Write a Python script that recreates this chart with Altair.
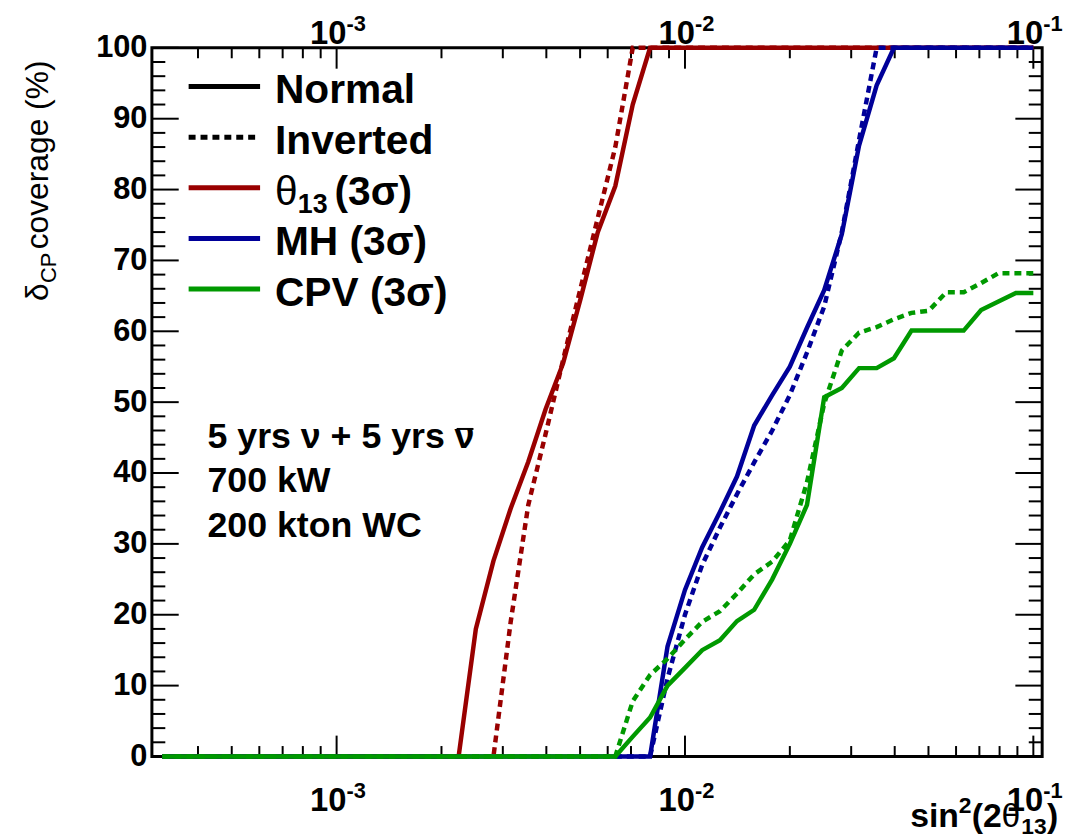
import altair as alt
import pandas as pd

FONT = "Liberation Sans"
RED, BLUE, GREEN = "#990000", "#000099", "#009900"

# ---------------- data ----------------
# theta13 (3 sigma)
th_n_x = [0.000316, 0.00224, 0.00251, 0.00282, 0.00316, 0.00355, 0.00398, 0.00447,
          0.00501, 0.00562, 0.00631, 0.00708, 0.00794, 0.1]
th_n_y = [0, 0, 18, 27.6, 35, 41.6, 49, 55.5, 64.5, 74, 80.5, 92, 100, 100]
th_i_x = [0.000316, 0.00282, 0.00316, 0.00355, 0.00398, 0.00447, 0.00501, 0.00562,
          0.00631, 0.00708, 0.1]
th_i_y = [0, 0, 19, 35.5, 45.5, 56, 66, 76, 86, 100, 100]
# mass hierarchy (3 sigma)
mh_n_x = [0.000316, 0.00794, 0.00891, 0.0100, 0.0112, 0.0126, 0.0141, 0.0158, 0.0178,
          0.0200, 0.0224, 0.0251, 0.0282, 0.0316, 0.0355, 0.0398, 0.1]
mh_n_y = [0, 0, 15.5, 23.5, 29.5, 34.5, 39.5, 46.7, 51, 55, 60.5, 65.8, 73.7, 86.2,
          94.7, 100, 100]
mh_i_x = [0.000316, 0.00794, 0.00891, 0.0100, 0.0112, 0.0126, 0.0141, 0.0158, 0.0178,
          0.0200, 0.0224, 0.0251, 0.0282, 0.0316, 0.0355, 0.1]
mh_i_y = [0, 0, 11, 20, 27, 32.3, 37, 41.5, 46, 51, 57, 63.5, 74, 87, 100, 100]
# CP violation (3 sigma)
cpv_x = [0.000316, 0.00631, 0.00708, 0.00794, 0.00891, 0.0100, 0.0112, 0.0126, 0.0141,
         0.0158, 0.0178, 0.0200, 0.0224, 0.0251, 0.0282, 0.0316, 0.0355, 0.0398,
         0.0447, 0.0501, 0.0562, 0.0631, 0.0708, 0.0794, 0.0891, 0.1]
cpv_n_y = [0, 0, 2.8, 5.5, 10, 12.5, 15, 16.4, 19.1, 20.7, 25, 30, 35.5, 50.7, 52,
           54.8, 54.8, 56.2, 60.1, 60.1, 60.1, 60.1, 63, 64.2, 65.4, 65.4]
cpv_i_y = [0, 0, 7.8, 11.5, 13.8, 16.5, 19, 20.5, 23, 25.7, 27.5, 30.5, 38.7, 49.8,
           57.3, 59.8, 60.6, 61.7, 62.6, 62.9, 65.5, 65.5, 66.8, 68.2, 68.2, 68.2]

# axis ticks / labels
x_major = [0.001, 0.01, 0.1]
x_exp = ["-3", "-2", "-1"]
x_minor = [m * 10.0 ** e for e in (-4, -3, -2) for m in range(2, 10) if m * 10.0 ** e > 3.5e-4]
y_major = list(range(0, 101, 10))
y_minor = [v for v in range(2, 100, 2) if v % 10 != 0]

legend_labels = ["Normal", "Inverted", "θ", "MH (3σ)", "CPV (3σ)"]
legend_colors = ["black", "black", RED, BLUE, GREEN]
legend_dashed = [False, True, False, False, False]
note_lines = ["5 yrs ν + 5 yrs", "700 kW", "200 kton WC"]

# ---------------- chart ----------------
W, H = 897, 714
xs = alt.Scale(type="log", domain=[2.95e-4, 0.106], nice=False)
ys = alt.Scale(domain=[0, 100], nice=False, zero=False)
yaxis = alt.Axis(values=y_major, ticks=False, tickSize=0, domain=False, grid=False,
                 labelFont=FONT, labelFontSize=31, labelFontWeight="bold",
                 labelColor="black", labelPadding=5, labelFlush=False,
                 labelOverlap=False, title=None)
DASH = [7, 5]


def curve(xv, yv, color, dashed):
    df = pd.DataFrame({"x": xv, "y": yv})
    kw = dict(color=color, strokeWidth=4.5, strokeCap="butt")
    if dashed:
        kw["strokeDash"] = DASH
    return alt.Chart(df).mark_line(**kw).encode(
        x=alt.X("x:Q", scale=xs, axis=None),
        y=alt.Y("y:Q", scale=ys, axis=yaxis),
    )


def xticks(vals, y0, y1):
    return alt.Chart(pd.DataFrame({"v": vals})).mark_rule(color="black", strokeWidth=2).encode(
        x=alt.X("v:Q", scale=xs, axis=None), y=alt.value(y0), y2=alt.value(y1))


def yticks(vals, x0, x1):
    return alt.Chart(pd.DataFrame({"v": vals})).mark_rule(color="black", strokeWidth=2).encode(
        y=alt.Y("v:Q", scale=ys, axis=yaxis), x=alt.value(x0), x2=alt.value(x1))


def label(text, x, y, size, weight="bold", angle=0, align="left", dx=0, dy=0):
    return alt.Chart(pd.DataFrame({"t": [text]})).mark_text(
        font=FONT, fontSize=size, fontWeight=weight, align=align, baseline="alphabetic",
        angle=angle, dx=dx, dy=dy, color="black").encode(
        x=alt.value(x), y=alt.value(y), text="t:N")


def decade_labels(ybase):
    df = pd.DataFrame({"v": x_major, "e": x_exp})
    base = alt.Chart(df).mark_text(font=FONT, fontSize=33, fontWeight="bold", align="right",
                                   baseline="alphabetic", dx=10, color="black").encode(
        x=alt.X("v:Q", scale=xs, axis=None), y=alt.value(ybase), text=alt.value("10"))
    sup = alt.Chart(df).mark_text(font=FONT, fontSize=22, fontWeight="bold", align="left",
                                  baseline="alphabetic", dx=10, color="black").encode(
        x=alt.X("v:Q", scale=xs, axis=None), y=alt.value(ybase - 13), text="e:N")
    return [base, sup]


layers = []
# ticks (inside the frame, all four sides)
layers += [xticks(x_major, H, H - 21), xticks(x_minor, H, H - 10.5),
           xticks(x_major, 0, 21), xticks(x_minor, 0, 10.5),
           yticks(y_major, 0, 27), yticks(y_minor, 0, 13.5),
           yticks(y_major, W, W - 27), yticks(y_minor, W, W - 13.5)]

# curves
layers += [curve(th_n_x, th_n_y, RED, False), curve(th_i_x, th_i_y, RED, True),
           curve(mh_n_x, mh_n_y, BLUE, False), curve(mh_i_x, mh_i_y, BLUE, True),
           curve(cpv_x, cpv_n_y, GREEN, False), curve(cpv_x, cpv_i_y, GREEN, True)]

# decade labels bottom and top
layers += decade_labels(H + 55)
layers += decade_labels(-4)

# legend
for i, (lab, col, dsh) in enumerate(zip(legend_labels, legend_colors, legend_dashed)):
    ly = 39 + 51 * i
    kw = dict(color=col, strokeWidth=5, strokeCap="butt")
    if dsh:
        kw["strokeDash"] = DASH
    layers.append(alt.Chart(pd.DataFrame({"a": [0]})).mark_rule(**kw).encode(
        x=alt.value(37), x2=alt.value(109), y=alt.value(ly)))
    if lab == "θ":
        layers.append(label("θ", 124, ly + 17, 41, weight="normal"))
        layers.append(label("13", 147, ly + 25, 27))
        layers.append(label("(3σ)", 184, ly + 17, 41))
    else:
        layers.append(label(lab, 124, ly + 17, 41))

# annotation text (anti-neutrino drawn as nu with a bar)
for i, t in enumerate(note_lines):
    layers.append(label(t, 56, 403 + 45 * i, 36))
layers.append(label("ν", 315, 403, 36, align="center"))
layers.append(alt.Chart(pd.DataFrame({"a": [0]})).mark_rule(color="black", strokeWidth=2).encode(
    x=alt.value(307), x2=alt.value(324), y=alt.value(384)))

# x title: sin^2(2 theta_13)
xt0, xty = 764, 785
layers += [label("sin", xt0, xty, 34),
           label("2", xt0 + 49, xty - 14, 23),
           label("(2", xt0 + 62, xty, 34),
           label("θ", xt0 + 92, xty, 34, weight="normal"),
           label("13", xt0 + 112, xty + 7, 23),
           label(")", xt0 + 138, xty, 34)]

# y title: delta_CP coverage (%)
yx, yy = -105, 255
layers += [label("δ", yx, yy, 32, weight="normal", angle=270),
           label("CP", yx, yy, 22, weight="normal", angle=270, dx=18, dy=8),
           label("coverage (%)", yx, yy, 32, weight="normal", angle=270, dx=52)]

chart = alt.layer(*layers).properties(
    width=W, height=H,
    autosize=alt.AutoSizeParams(type="none"),
    padding={"left": 145, "top": 37, "right": 21, "bottom": 78},
    background="white",
).configure_view(stroke="black", strokeWidth=3)

chart.save("out.html", embed_options={"renderer": "svg", "actions": False})
